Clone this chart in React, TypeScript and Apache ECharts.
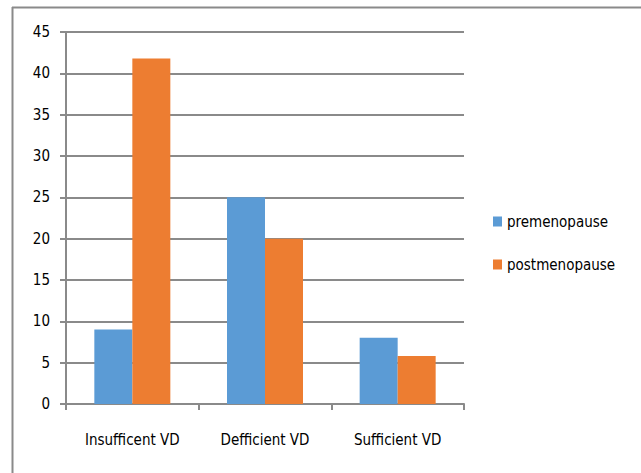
import React, { useEffect, useRef } from "react";
import * as echarts from "echarts";

const categories = ["Insufficent VD", "Defficient VD", "Sufficient VD"];
const premenopause = [9, 25, 8];
const postmenopause = [41.8, 20, 5.8];
const seriesNames = ["premenopause", "postmenopause"];

const FONT = "'Liberation Sans Narrow', 'DejaVu Sans Condensed', 'Open Sans', sans-serif";

export default function App() {
  const ref = useRef<HTMLDivElement>(null);
  useEffect(() => {
    if (!ref.current) return;
    const chart = echarts.init(ref.current, null, { renderer: "svg" });
    const gridColor = "#8a8a8a";
    chart.setOption({
      animation: false,
      backgroundColor: "#ffffff",
      textStyle: { fontFamily: FONT },
      grid: { left: 66, right: 177, top: 32, bottom: 69, containLabel: false },
      legend: {
        orient: "vertical",
        left: 488,
        top: 209,
        itemWidth: 9,
        itemHeight: 10,
        itemGap: 28,
        icon: "rect",
        textStyle: { fontSize: 15, color: "#000", fontFamily: FONT },
        data: seriesNames,
      },
      xAxis: {
        type: "category",
        data: categories,
        axisLine: { show: true, lineStyle: { color: gridColor, width: 2 } },
        axisTick: { show: true, length: 6, lineStyle: { color: gridColor, width: 2 } },
        axisLabel: { fontSize: 15, color: "#000", margin: 28, fontFamily: FONT },
      },
      yAxis: {
        type: "value",
        min: 0,
        max: 45,
        interval: 5,
        axisLine: { show: true, lineStyle: { color: gridColor, width: 2 } },
        axisTick: { show: true, length: 6, lineStyle: { color: gridColor, width: 2 } },
        axisLabel: { fontSize: 15, color: "#000", margin: 16, fontFamily: FONT },
        splitLine: { show: true, lineStyle: { color: gridColor, width: 2 } },
      },
      series: [
        {
          name: seriesNames[0],
          type: "bar",
          data: premenopause,
          barWidth: 38,
          barGap: "0%",
          itemStyle: { color: "#5B9BD5" },
        },
        {
          name: seriesNames[1],
          type: "bar",
          data: postmenopause,
          barWidth: 38,
          barGap: "0%",
          itemStyle: { color: "#ED7D31" },
        },
      ],
      graphic: [
        {
          type: "line",
          shape: { x1: 12, y1: 7.5, x2: 641, y2: 7.5 },
          style: { stroke: "#8a8a8a", lineWidth: 2 },
          silent: true,
        },
        {
          type: "line",
          shape: { x1: 12.5, y1: 7, x2: 12.5, y2: 473 },
          style: { stroke: "#8a8a8a", lineWidth: 2 },
          silent: true,
        },
      ],
    });
    return () => chart.dispose();
  }, []);
  return (
    <div
      ref={ref}
      style={{ position: "fixed", left: 0, top: 0, width: 641, height: 473 }}
    />
  );
}
